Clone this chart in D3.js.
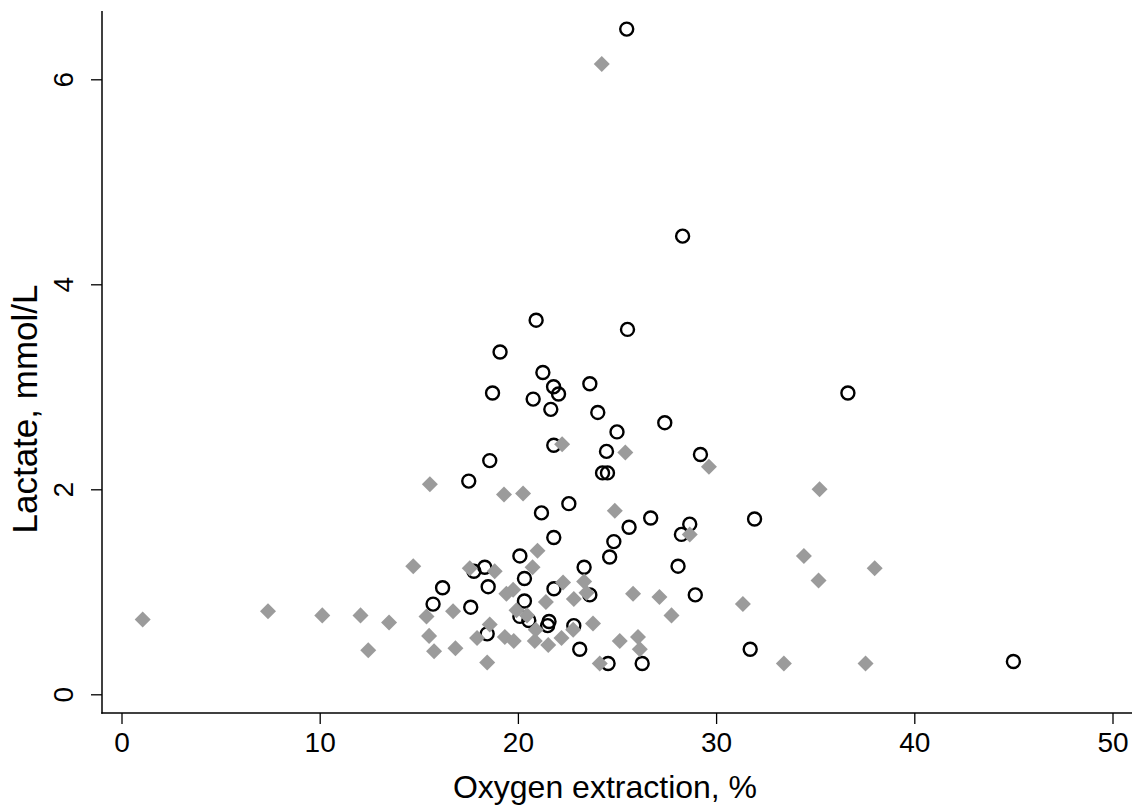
<!DOCTYPE html>
<html>
<head>
<meta charset="utf-8">
<script src="https://cdn.jsdelivr.net/npm/d3@7"></script>
<style>
  html, body { margin: 0; padding: 0; background: #fff; }
  svg { display: block; }
  text { font-family: "Liberation Sans", Arial, Helvetica, sans-serif; fill: #000; }
</style>
</head>
<body>
<svg id="chart" width="1135" height="806"></svg>
<script>
// Series 1: open circles  (oxygen extraction %, lactate mmol/L)
const circleX = [25.49,28.31,20.92,25.53,19.10,21.26,23.63,21.80,18.72,36.65,22.05,20.77,21.66,24.03,27.41,25.00,21.81,24.47,29.21,18.58,24.27,24.52,17.52,22.57,21.19,26.70,31.94,28.67,25.61,28.25,21.81,24.84,20.10,24.63,28.08,23.34,18.33,17.78,20.33,16.20,18.50,21.82,23.63,28.95,20.33,15.72,17.62,20.10,20.55,21.57,21.50,22.82,18.45,23.12,31.72,24.55,26.27,45.00];
const circleY = [6.49,4.47,3.65,3.56,3.34,3.14,3.03,3.00,2.94,2.94,2.93,2.88,2.78,2.75,2.65,2.56,2.43,2.37,2.34,2.28,2.16,2.16,2.08,1.86,1.77,1.72,1.71,1.66,1.63,1.56,1.53,1.49,1.35,1.34,1.25,1.24,1.24,1.20,1.13,1.04,1.05,1.03,0.97,0.97,0.91,0.88,0.85,0.76,0.72,0.71,0.67,0.67,0.59,0.44,0.44,0.30,0.30,0.32];

// Series 2: grey diamonds
const diamondX = [24.23,22.23,25.42,29.64,15.56,35.22,19.30,20.26,24.89,28.67,20.99,34.43,14.72,20.74,17.57,38.00,18.83,35.17,22.28,23.34,19.76,19.42,23.46,25.81,27.14,22.82,21.41,31.35,19.93,16.73,7.39,20.46,10.13,12.06,27.75,15.39,1.07,13.50,23.79,18.58,20.90,22.79,15.52,17.94,19.34,22.20,26.06,19.79,20.85,25.14,21.53,16.85,12.45,26.15,15.77,18.45,24.13,33.42,37.54];
const diamondY = [6.15,2.44,2.36,2.22,2.05,2.00,1.95,1.96,1.79,1.56,1.40,1.35,1.25,1.24,1.23,1.23,1.20,1.11,1.09,1.10,1.02,0.98,0.99,0.98,0.95,0.93,0.90,0.88,0.82,0.81,0.81,0.77,0.77,0.77,0.77,0.76,0.73,0.70,0.69,0.68,0.63,0.63,0.57,0.55,0.56,0.55,0.56,0.52,0.52,0.52,0.48,0.45,0.43,0.44,0.42,0.31,0.30,0.30,0.30];

const xTicks = [0, 10, 20, 30, 40, 50];
const yTicks = [0, 2, 4, 6];
const xTitle = "Oxygen extraction, %";
const yTitle = "Lactate, mmol/L";

const svg = d3.select("#chart");
const axisX0 = 102, axisY0 = 713;

const x = d3.scaleLinear().domain([0, 50]).range([121.5, 1112.5]);
const y = d3.scaleLinear().domain([0, 6]).range([694.3, 79.3]);

// axes lines
svg.append("line").attr("x1", axisX0).attr("x2", axisX0).attr("y1", 11).attr("y2", axisY0 + 0.75)
  .attr("stroke", "#000").attr("stroke-width", 1.5);
svg.append("line").attr("x1", axisX0 - 0.75).attr("x2", 1132).attr("y1", axisY0).attr("y2", axisY0)
  .attr("stroke", "#000").attr("stroke-width", 1.5);

// x axis ticks via d3 axis
const gx = svg.append("g").attr("transform", `translate(0,${axisY0})`)
  .call(d3.axisBottom(x).tickValues(xTicks).tickSize(11).tickPadding(8).tickFormat(d3.format("d")));
gx.select(".domain").remove();
gx.selectAll("line").attr("stroke", "#000").attr("stroke-width", 1.3);
gx.selectAll("text").attr("font-size", 28).attr("font-family", "Liberation Sans, Arial, sans-serif").attr("fill", "#000");

// y axis ticks
const gy = svg.append("g").attr("transform", `translate(${axisX0},0)`)
  .call(d3.axisLeft(y).tickValues(yTicks).tickSize(11).tickFormat(d3.format("d")));
gy.select(".domain").remove();
gy.selectAll("line").attr("stroke", "#000").attr("stroke-width", 1.3);
gy.selectAll("text")
  .attr("font-size", 28).attr("font-family", "Liberation Sans, Arial, sans-serif").attr("fill", "#000")
  .attr("x", null).attr("dy", null)
  .attr("text-anchor", "middle")
  .attr("transform", "translate(-27,0) rotate(-90) translate(0,-9)")
  .attr("dominant-baseline", "middle");

// titles
svg.append("text").attr("x", 605).attr("y", 798).attr("text-anchor", "middle")
  .attr("font-size", 32).text(xTitle);
svg.append("text").attr("transform", "translate(37,409) rotate(-90)").attr("text-anchor", "middle")
  .attr("font-size", 35).text(yTitle);

// circles
const circles = circleX.map((v, i) => ({x: v, y: circleY[i]}));
svg.append("g").selectAll("circle").data(circles).join("circle")
  .attr("cx", d => x(d.x)).attr("cy", d => y(d.y)).attr("r", 6.5)
  .attr("fill", "none").attr("stroke", "#000").attr("stroke-width", 2.4);

// diamonds
const diamonds = diamondX.map((v, i) => ({x: v, y: diamondY[i]}));
const dsym = d3.symbol().type(d3.symbolSquare).size(128);
svg.append("g").selectAll("path").data(diamonds).join("path")
  .attr("d", dsym)
  .attr("transform", d => `translate(${x(d.x)},${y(d.y)}) rotate(45)`)
  .attr("fill", "#9b9b9b");
</script>
</body>
</html>
